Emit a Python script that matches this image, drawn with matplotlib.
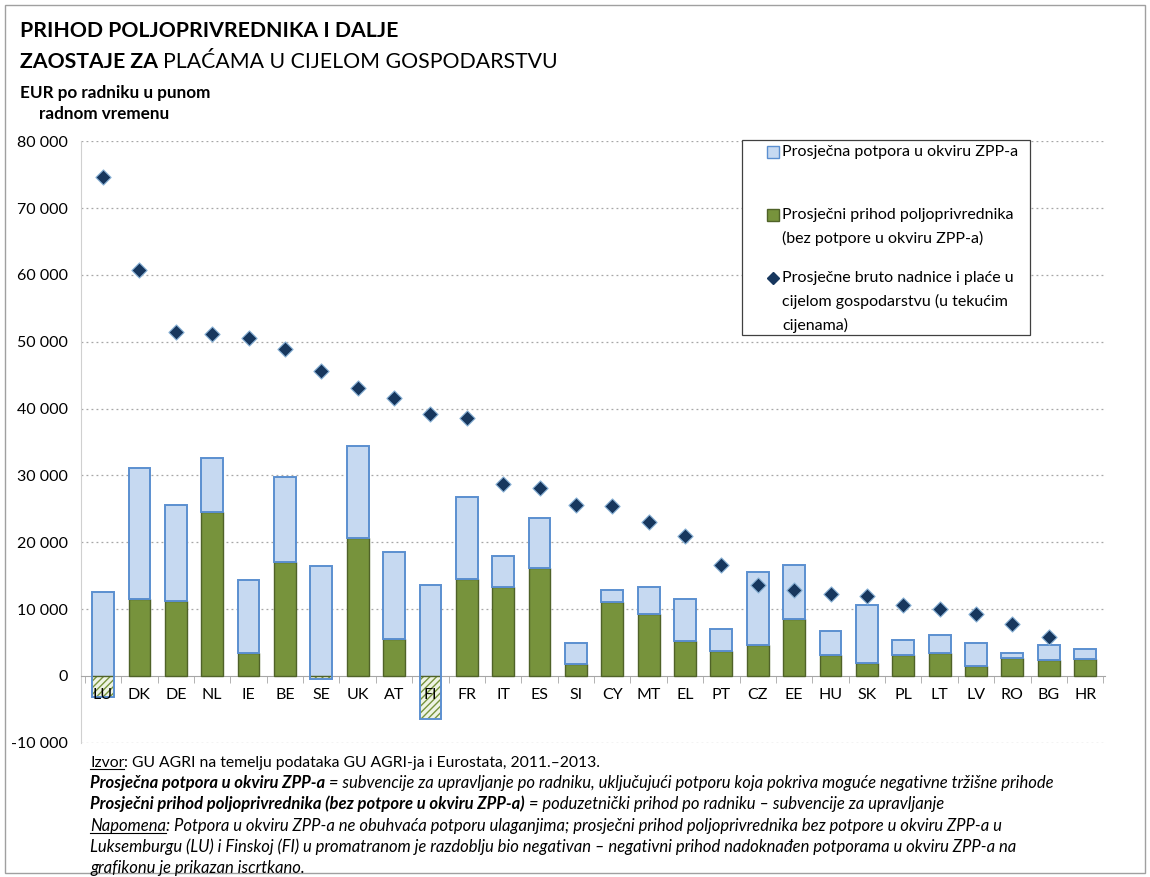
import numpy as np
from matplotlib import pyplot as plt
from matplotlib.patches import Rectangle
from matplotlib.lines import Line2D

# -- Data (EUR per full-time worker) --
countries = ['LU', 'DK', 'DE', 'NL', 'IE', 'BE', 'SE', 'UK', 'AT', 'FI', 'FR', 'IT', 'ES', 'SI',
             'CY', 'MT', 'EL', 'PT', 'CZ', 'EE', 'HU', 'SK', 'PL', 'LT', 'LV', 'RO', 'BG', 'HR']
income = [-3100, 11500, 11200, 24500, 3440, 17040, -450, 20630, 5530, -6400, 14500, 13300, 16140, 1850,
          11000, 9270, 5290, 3740, 4690, 8470, 3190, 1940, 3090, 3440, 1450, 2640, 2340, 2490]
support = [15700, 19600, 14360, 8100, 10900, 12700, 16900, 13750, 13000, 20000, 12260, 4640, 7480, 3080,
           1900, 4030, 6180, 3290, 10910, 8080, 3590, 8670, 2240, 2740, 3480, 800, 2250, 1500]
wages = [74590, 60690, 51420, 51120, 50520, 48880, 45590, 43050, 41550, 39160, 38570, 28700, 28100, 25560,
         25460, 23020, 20880, 16550, 13560, 12860, 12210, 11960, 10620, 10020, 9320, 7830, 5880, np.nan]
yticks = np.arange(-10000, 80001, 10000)

C_BLUE = '#C6D9F1'
C_BLUE_EDGE = '#5B8FD0'
C_GREEN = '#77933C'
C_GREEN_EDGE = '#4F6228'
C_DIAMOND = '#17375E'

plt.rcParams['font.family'] = ['Lato', 'DejaVu Sans']

W, H = 1150, 877
fig = plt.figure(figsize=(W / 100, H / 100), dpi=100)
ax = fig.add_axes([0.07, 0.153, 0.891, 0.686])

x = np.arange(len(countries))
inc = np.array(income, dtype=float)
sup = np.array(support, dtype=float)
pos_inc = np.clip(inc, 0, None)
neg_inc = np.clip(inc, None, 0)
w = 0.6

# support bar (light blue) above the income
ax.bar(x, sup + neg_inc, bottom=pos_inc, width=w, color=C_BLUE, edgecolor='none', zorder=2)
# negative income part: hatched
ax.bar(x, neg_inc, width=w, color='#EEF3E4', edgecolor=C_GREEN, hatch='/////', linewidth=0, zorder=3)
# positive income (green)
ax.bar(x, pos_inc, width=w, color=C_GREEN, edgecolor=C_GREEN_EDGE, linewidth=1, zorder=3)
# outline of the support bar
ax.bar(x, sup, bottom=inc, width=w, fill=False, edgecolor=C_BLUE_EDGE, linewidth=1.4, zorder=4)

ax.scatter(x, wages, marker='D', s=60, color=C_DIAMOND, edgecolor='#8CB4D8', linewidth=0.8, zorder=5)

ax.set_xlim(-0.62, len(countries) - 0.45)
ax.set_ylim(-10000, 80000)
ax.set_yticks(yticks)
ax.set_yticklabels([f'{v:,}'.replace(',', ' ') for v in yticks], fontsize=11.5)
ax.tick_params(axis='y', length=0, pad=9)
for v in yticks:
    if v != 0:
        ax.axhline(v, color='#A6A6A6', linestyle=(0, (1.5, 2.5)), linewidth=0.9, zorder=0)

ax.spines['bottom'].set_position(('data', 0))
ax.spines['bottom'].set_color('#A6A6A6')
ax.spines['left'].set_color('#D0D0D0')
ax.spines['top'].set_visible(False)
ax.spines['right'].set_visible(False)
ax.set_xticks(x)
ax.set_xticklabels(countries, fontsize=11.5)
ax.set_xticks(np.arange(-0.5, len(countries)), minor=True)
ax.tick_params(axis='x', which='major', length=0, pad=9)
ax.tick_params(axis='x', which='minor', length=5, color='#A6A6A6', direction='out')
ax.xaxis.set_zorder(10)

# -- legend, drawn by hand so markers sit on the first label line --
fig.patches.append(Rectangle((742 / W, 1 - 335 / H), (1030 - 742) / W, (335 - 140) / H,
                             transform=fig.transFigure, facecolor='white', edgecolor='#404040',
                             linewidth=0.9, zorder=20))
leg_items = [
    (152, ['Prosječna potpora u okviru ZPP-a'], 's', C_BLUE, C_BLUE_EDGE, 9),
    (215, ['Prosječni prihod poljoprivrednika', '(bez potpore u okviru ZPP-a)'], 's', C_GREEN, C_GREEN_EDGE, 9),
    (278, ['Prosječne bruto nadnice i plaće u', 'cijelom gospodarstvu (u tekućim', 'cijenama)'],
     'D', C_DIAMOND, C_DIAMOND, 6),
]
for ytop, lines, mk, fc, ec, ms in leg_items:
    fig.add_artist(Line2D([773 / W], [1 - ytop / H], marker=mk, markersize=ms, markerfacecolor=fc,
                          markeredgecolor=ec, linestyle='none', transform=fig.transFigure, zorder=21))
    for i, line in enumerate(lines):
        fig.text(782 / W, 1 - (ytop + i * 23.5) / H, line, fontsize=11.5, va='center', ha='left', zorder=21)

# outer border
fig.patches.append(Rectangle((0.004, 0.004), 0.992, 0.99, transform=fig.transFigure,
                             fill=False, edgecolor='#A0A0A0', linewidth=1))

renderer = fig.canvas.get_renderer()


def runs(xpx, ypx, parts, **kw):
    # draw consecutive text pieces on one line, (text, weight, style, underline)
    cx = xpx
    for txt, weight, style, under in parts:
        t = fig.text(cx / W, 1 - ypx / H, txt, fontweight=weight, fontstyle=style,
                     va='baseline', ha='left', **kw)
        bb = t.get_window_extent(renderer)
        if under:
            fig.add_artist(Line2D([bb.x0 / W, bb.x1 / W], [(bb.y0 + 1) / H, (bb.y0 + 1) / H],
                                  transform=fig.transFigure, color='black', linewidth=0.8))
        cx += bb.width


runs(20, 37, [('PRIHOD POLJOPRIVREDNIKA I DALJE', 'bold', 'normal', False)], fontsize=15.3)
runs(20, 68, [('ZAOSTAJE ZA ', 'bold', 'normal', False),
              ('PLAĆAMA U CIJELOM GOSPODARSTVU', 'normal', 'normal', False)], fontsize=15.3)
runs(20, 98, [('EUR po radniku u punom', 'bold', 'normal', False)], fontsize=12.3)
runs(39, 119, [('radnom vremenu', 'bold', 'normal', False)], fontsize=12.3)

fk = dict(fontsize=12, family=['Lato', 'DejaVu Sans'])
runs(90, 767, [('Izvor', 'normal', 'normal', True),
               (': GU AGRI na temelju podataka GU AGRI-ja i Eurostata, 2011.–2013.', 'normal', 'normal', False)],
     fontsize=11.3)
runs(90, 788, [('Prosječna potpora u okviru ZPP-a', 'bold', 'italic', False),
               (' = subvencije za upravljanje po radniku, uključujući potporu koja pokriva moguće negativne tržišne prihode',
                'normal', 'italic', False)], **fk)
runs(90, 809, [('Prosječni prihod poljoprivrednika (bez potpore u okviru ZPP-a)', 'bold', 'italic', False),
               (' = poduzetnički prihod po radniku – subvencije za upravljanje', 'normal', 'italic', False)], **fk)
runs(90, 831, [('Napomena', 'normal', 'italic', True),
               (': Potpora u okviru ZPP-a ne obuhvaća potporu ulaganjima; prosječni prihod poljoprivrednika bez potpore u okviru ZPP-a u',
                'normal', 'italic', False)], **fk)
runs(90, 852, [('Luksemburgu (LU) i Finskoj (FI) u promatranom je razdoblju bio negativan – negativni prihod nadoknađen potporama u okviru ZPP-a na',
                'normal', 'italic', False)], **fk)
runs(90, 873, [('grafikonu je prikazan iscrtkano.', 'normal', 'italic', False)], **fk)

fig.savefig('out.png', dpi=100)
